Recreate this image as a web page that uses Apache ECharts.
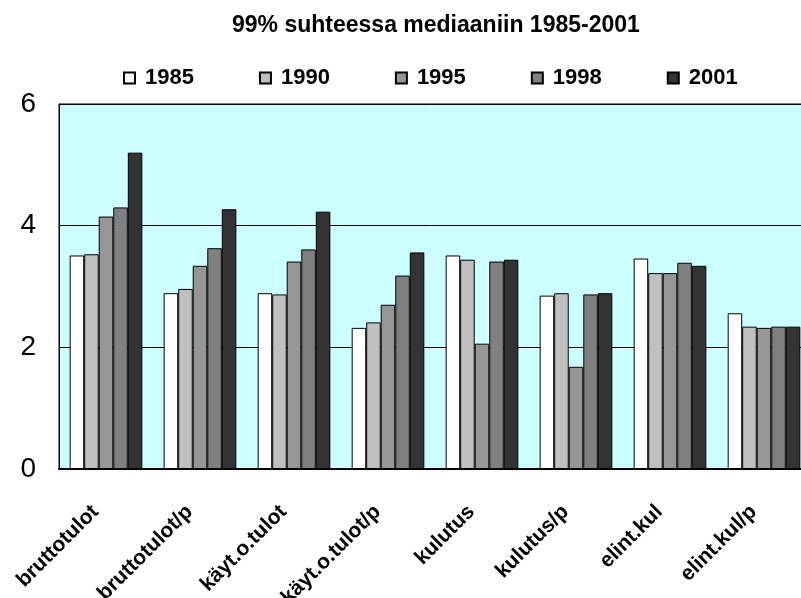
<!DOCTYPE html>
<html>
<head>
<meta charset="utf-8">
<script src="https://cdn.jsdelivr.net/npm/echarts@6/dist/echarts.min.js"></script>
<style>
  html, body { margin: 0; padding: 0; background: #fff; }
  #main { width: 801px; height: 598px; }
</style>
</head>
<body>
<div id="main"></div>
<script>
// luokat ja vuodet
const categories = ['bruttotulot', 'bruttotulot/p', 'käyt.o.tulot', 'käyt.o.tulot/p', 'kulutus', 'kulutus/p', 'elint.kul', 'elint.kul/p']
const years = ['1985', '1990', '1995', '1998', '2001']
// 99% suhteessa mediaaniin
const s1985 = [3.51, 2.89, 2.89, 2.32, 3.51, 2.85, 3.46, 2.56]
const s1990 = [3.53, 2.96, 2.87, 2.41, 3.44, 2.89, 3.22, 2.34]
const s1995 = [4.15, 3.34, 3.41, 2.70, 2.06, 1.68, 3.22, 2.32]
const s1998 = [4.30, 3.63, 3.61, 3.18, 3.41, 2.87, 3.39, 2.34]
const s2001 = [5.20, 4.27, 4.23, 3.56, 3.44, 2.89, 3.34, 2.34]
const yTicks = [0, 2, 4, 6]

const seriesData = [s1985, s1990, s1995, s1998, s2001]
const colors = ['#ffffff', '#c0c0c0', '#969696', '#808080', '#333333']
const font = 'Liberation Sans, Arial, sans-serif'

let myChart = echarts.init(document.getElementById('main'))
let option = {
  animation: false,
  backgroundColor: '#ffffff',
  title: {
    text: '99% suhteessa mediaaniin 1985-2001',
    left: 232,
    top: 14,
    padding: 0,
    textStyle: { fontFamily: font, fontSize: 23, fontWeight: 'bold', color: '#000' }
  },
  legend: {
    data: years,
    left: 123,
    top: 67,
    padding: 0,
    icon: 'rect',
    itemWidth: 11,
    itemHeight: 11,
    itemGap: 65,
    textStyle: { fontFamily: font, fontSize: 22, fontWeight: 'bold', color: '#000', padding: [0, 0, 0, 5] }
  },
  grid: {
    left: 59,
    right: -10,
    top: 104,
    bottom: 129,
    containLabel: false,
    outerBoundsMode: 'none',
    show: true,
    backgroundColor: '#ccffff',
    borderColor: '#000',
    borderWidth: 1
  },
  xAxis: {
    type: 'category',
    data: categories,
    axisLine: { lineStyle: { color: '#000', width: 2 } },
    axisTick: { show: false },
    axisLabel: {
      rotate: 45,
      interval: 0,
      margin: 29,
      padding: [0, 15, 0, 0],
      fontFamily: font,
      fontSize: 21,
      fontWeight: 'bold',
      color: '#000'
    }
  },
  yAxis: {
    type: 'value',
    min: yTicks[0],
    max: yTicks[yTicks.length - 1],
    interval: 2,
    axisLine: { show: true, lineStyle: { color: '#000', width: 1 } },
    axisTick: { show: false },
    axisLabel: { margin: 23, fontFamily: font, fontSize: 28, color: '#000' },
    splitLine: { lineStyle: { color: '#000', width: 1 } }
  },
  series: years.map((y, i) => ({
    name: y,
    type: 'bar',
    data: seriesData[i],
    barGap: '0%',
    barCategoryGap: '22.7%',
    itemStyle: { color: colors[i], borderColor: '#000', borderWidth: 1 }
  }))
}
myChart.setOption(option)
</script>
</body>
</html>
